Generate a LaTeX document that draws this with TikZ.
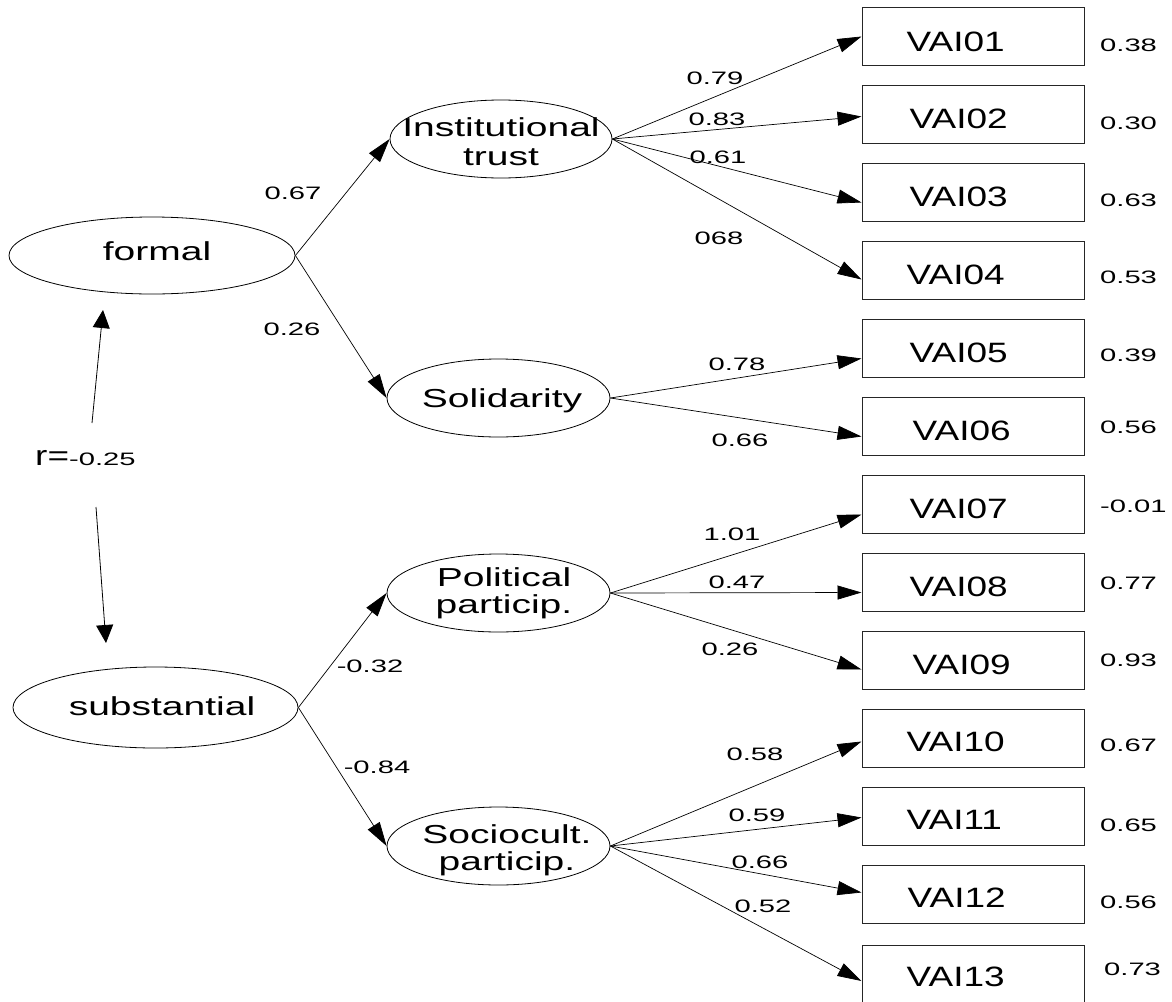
\documentclass[tikz,border=0pt]{standalone}
\usepackage{graphicx}
\usepackage{fontspec}
\setmainfont{Liberation Sans}
\usetikzlibrary{shapes.geometric,arrows.meta,calc}
\newcommand\sxn[1]{\scalebox{1.62}[1]{#1}}
\newcommand\sxb[1]{\scalebox{1.32}[1]{#1}}
\newcommand\sxe[1]{\scalebox{1.5}[1]{#1}}
\tikzset{
  lat/.style={ellipse,draw,line width=0.8pt,inner sep=0pt,minimum width=223pt,minimum height=78pt},
  lattxt/.style={inner sep=0pt,anchor=base,font=\fontsize{26}{27}\selectfont},
  obs/.style={rectangle,draw=black!85,line width=1pt,minimum width=222pt,minimum height=58pt,inner sep=0pt},
  obstxt/.style={inner sep=0pt,anchor=base west,font=\fontsize{28}{30}\selectfont},
  num/.style={inner sep=0pt,font=\fontsize{18}{20}\selectfont},
  arr/.style={-{Triangle[length=24pt,width=14pt]},line width=0.7pt},
  rarr/.style={-{Triangle[length=18pt,width=17pt]},line width=0.8pt}
}
\begin{document}
\begin{tikzpicture}[x=1pt,y=-1pt]
\useasboundingbox (0,0) rectangle (1172,1001);
\fill[white] (0,0) rectangle (1172,1001);

% latent variables
\node[lat,minimum width=286pt,minimum height=77pt] (formal) at (152,255.5) {};
\node[lattxt] (formal-t) at (157,260) {\sxe{formal}};
\node[lat,minimum width=285pt,minimum height=81pt] (subst) at (155.5,707.5) {};
\node[lattxt] (subst-t) at (162,715) {\sxe{substantial}};
\node[lat,minimum width=222pt] (inst) at (501,139) {};
\node[lattxt] (inst-t1) at (501,136.7) {\sxe{Institutional}};
\node[lattxt] (inst-t2) at (501,165) {\sxe{trust}};
\node[lat] (sol) at (498.5,398) {};
\node[lattxt] (sol-t) at (502,407.3) {\sxe{Solidarity}};
\node[lat] (pol) at (498.5,593) {};
\node[lattxt] (pol-t1) at (504,586.7) {\sxe{Political}};
\node[lattxt] (pol-t2) at (504,613) {\sxe{particip.}};
\node[lat] (soc) at (498.5,846) {};
\node[lattxt] (soc-t1) at (507,843) {\sxe{Sociocult.}};
\node[lattxt] (soc-t2) at (507,870) {\sxe{particip.}};

% observed variables
\node[obs] (v1) at (973,36.5) {};
\node[obs] (v2) at (973,114.5) {};
\node[obs] (v3) at (973,192.5) {};
\node[obs] (v4) at (973,270.5) {};
\node[obs] (v5) at (973,348.5) {};
\node[obs] (v6) at (973,426.5) {};
\node[obs] (v7) at (973,504.5) {};
\node[obs] (v8) at (973,582.5) {};
\node[obs] (v9) at (973,660.5) {};
\node[obs] (v10) at (973,738.5) {};
\node[obs] (v11) at (973,816.5) {};
\node[obs] (v12) at (973,894.5) {};
\node[obs] (v13) at (973,974) {};
\node[obstxt] (v1-t) at ([xshift=45pt,yshift=-15pt]v1.west) {\sxb{VAI01}};
\node[obstxt] (v2-t) at ([xshift=48pt,yshift=-14pt]v2.west) {\sxb{VAI02}};
\node[obstxt] (v3-t) at ([xshift=48pt,yshift=-14pt]v3.west) {\sxb{VAI03}};
\node[obstxt] (v4-t) at ([xshift=45pt,yshift=-14pt]v4.west) {\sxb{VAI04}};
\node[obstxt] (v5-t) at ([xshift=48pt,yshift=-14pt]v5.west) {\sxb{VAI05}};
\node[obstxt] (v6-t) at ([xshift=51pt,yshift=-14pt]v6.west) {\sxb{VAI06}};
\node[obstxt] (v7-t) at ([xshift=48pt,yshift=-14pt]v7.west) {\sxb{VAI07}};
\node[obstxt] (v8-t) at ([xshift=48pt,yshift=-14pt]v8.west) {\sxb{VAI08}};
\node[obstxt] (v9-t) at ([xshift=51pt,yshift=-14pt]v9.west) {\sxb{VAI09}};
\node[obstxt] (v10-t) at ([xshift=45pt,yshift=-13pt]v10.west) {\sxb{VAI10}};
\node[obstxt] (v11-t) at ([xshift=45pt,yshift=-13pt]v11.west) {\sxb{VAI11}};
\node[obstxt] (v12-t) at ([xshift=46pt,yshift=-13pt]v12.west) {\sxb{VAI12}};
\node[obstxt] (v13-t) at ([xshift=45pt,yshift=-12pt]v13.west) {\sxb{VAI13}};

% residual values
\node[num,anchor=west] (e1) at (1100,45) {\sxn{0.38}};
\node[num,anchor=west] (e2) at (1100,123) {\sxn{0.30}};
\node[num,anchor=west] (e3) at (1100,200) {\sxn{0.63}};
\node[num,anchor=west] (e4) at (1100,277) {\sxn{0.53}};
\node[num,anchor=west] (e5) at (1100,355) {\sxn{0.39}};
\node[num,anchor=west] (e6) at (1100,427) {\sxn{0.56}};
\node[num,anchor=west] (e7) at (1100,506) {\sxn{-0.01}};
\node[num,anchor=west] (e8) at (1100,583) {\sxn{0.77}};
\node[num,anchor=west] (e9) at (1100,660) {\sxn{0.93}};
\node[num,anchor=west] (e10) at (1100,745) {\sxn{0.67}};
\node[num,anchor=west] (e11) at (1100,825) {\sxn{0.65}};
\node[num,anchor=west] (e12) at (1100,902) {\sxn{0.56}};
\node[num,anchor=west] (e13) at (1104,969) {\sxn{0.73}};

% correlation
\node[inner sep=0pt,anchor=base west] (rlab) at (35,465)
  {{\fontsize{28}{30}\selectfont\sxb{r=}}{\fontsize{18}{20}\selectfont\sxn{-0.25}}};
\coordinate (r1s) at (92,423);
\coordinate (r1e) at (103,310);
\coordinate (r2s) at (96,507);
\coordinate (r2e) at (106,643);
\draw[rarr] (r1s) -- (r1e);
\draw[rarr] (r2s) -- (r2e);

% second-order paths
\draw[arr] (formal.east) -- (inst.west);
\draw[arr] (formal.east) -- (sol.west);
\draw[arr] (subst.east) -- (pol.west);
\draw[arr] (subst.east) -- (soc.west);
\node[num] (l1) at (293,193) {\sxn{0.67}};
\node[num] (l2) at (292,329) {\sxn{0.26}};
\node[num] (l3) at (370,666) {\sxn{-0.32}};
\node[num] (l4) at (377,767) {\sxn{-0.84}};

% loadings
\draw[arr] (inst.east) -- (v1.west);
\draw[arr] (inst.east) -- ([yshift=-2pt]v2.west);
\draw[arr] (inst.east) -- ([yshift=-10pt]v3.west);
\draw[arr] (inst.east) -- ([yshift=-9pt]v4.west);
\draw[arr] (sol.east) -- ([yshift=-10pt]v5.west);
\draw[arr] (sol.east) -- ([yshift=-10pt]v6.west);
\draw[arr] (pol.east) -- ([yshift=-10pt]v7.west);
\draw[arr] (pol.east) -- ([yshift=-10pt]v8.west);
\draw[arr] (pol.east) -- ([yshift=-9pt]v9.west);
\draw[arr] (soc.east) -- ([yshift=-3pt]v10.west);
\draw[arr] (soc.east) -- ([yshift=-1pt]v11.west);
\draw[arr] (soc.east) -- ([yshift=2pt]v12.west);
\draw[arr] (soc.east) -- ([yshift=-7pt]v13.west);

\node[num] (k1) at (715,78) {\sxn{0.79}};
\node[num] (k2) at (717,119) {\sxn{0.83}};
\node[num] (k3) at (718,157) {\sxn{0.61}};
\node[num] (k4) at (719,238) {\sxn{068}};
\node[num] (k5) at (737,364) {\sxn{0.78}};
\node[num] (k6) at (740,440) {\sxn{0.66}};
\node[num] (k7) at (732,534) {\sxn{1.01}};
\node[num] (k8) at (737,582) {\sxn{0.47}};
\node[num] (k9) at (730,649) {\sxn{0.26}};
\node[num] (k10) at (755,754) {\sxn{0.58}};
\node[num] (k11) at (757,815) {\sxn{0.59}};
\node[num] (k12) at (760,862) {\sxn{0.66}};
\node[num] (k13) at (763,906) {\sxn{0.52}};
\end{tikzpicture}
\end{document}
